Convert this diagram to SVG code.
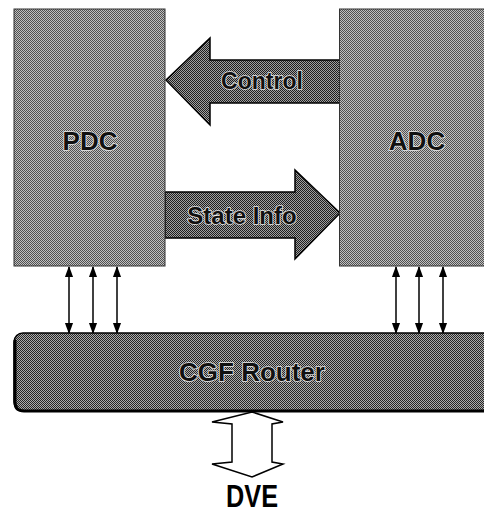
<svg xmlns="http://www.w3.org/2000/svg" width="484" height="513" viewBox="0 0 484 513">
<defs>
<pattern id="boxTex" width="2" height="2" patternUnits="userSpaceOnUse">
<rect width="2" height="2" fill="#c0c0c0"/>
<rect x="0" y="0" width="1" height="1" fill="#505050"/>
<rect x="1" y="1" width="1" height="1" fill="#505050"/>
</pattern>
<pattern id="arrowTex" width="2" height="2" patternUnits="userSpaceOnUse">
<rect width="2" height="2" fill="#a0a0a0"/>
<rect x="0" y="0" width="1" height="1" fill="#1e1e1e"/>
<rect x="1" y="1" width="1" height="1" fill="#1e1e1e"/>
</pattern>
<pattern id="routerTex" width="2" height="2" patternUnits="userSpaceOnUse">
<rect width="2" height="2" fill="#acacac"/>
<rect x="0" y="0" width="1" height="1" fill="#262626"/>
<rect x="1" y="1" width="1" height="1" fill="#262626"/>
</pattern>
<marker id="ah" viewBox="0 0 10 10" refX="9" refY="5" markerWidth="11" markerHeight="11" markerUnits="userSpaceOnUse" orient="auto-start-reverse">
<path d="M0,1.3 L10,5 L0,8.7 Z" fill="#000"/>
</marker>
<style>
.box{fill:url(#boxTex);stroke:#333;stroke-width:1}
.fat{fill:url(#arrowTex);stroke:#000;stroke-width:1.5;stroke-linejoin:miter}
.lbl{font-family:"Liberation Sans",Arial,sans-serif;font-weight:bold;fill:#111;text-anchor:middle;stroke:#e8e8e8;stroke-width:1.6;paint-order:stroke}
.link{stroke:#000;stroke-width:1.5;fill:none;marker-start:url(#ah);marker-end:url(#ah)}
.dve{fill:#fff;stroke:#000;stroke-width:1.5;stroke-linejoin:miter}
</style>
</defs>
<rect width="484" height="513" fill="#fff"/>

<g id="connectors">
<line class="link" x1="69" y1="267" x2="69" y2="333"/>
<line class="link" x1="93" y1="267" x2="93" y2="333"/>
<line class="link" x1="117" y1="267" x2="117" y2="333"/>
<line class="link" x1="396" y1="267" x2="396" y2="333"/>
<line class="link" x1="419" y1="267" x2="419" y2="333"/>
<line class="link" x1="443" y1="267" x2="443" y2="333"/>
<g id="control-arrow">
<path class="fat" d="M166,80 L210,38 L210,60 L340,60 L340,103 L210,103 L210,125 Z"/>
<text class="lbl" x="262" y="89" font-size="23">Control</text>
</g>
<g id="stateinfo-arrow">
<path class="fat" d="M165,192 L295,192 L295,170 L340,213 L295,259 L295,238 L165,238 Z"/>
<text class="lbl" x="242" y="224" font-size="24">State Info</text>
</g>
<path id="dve-arrow" class="dve" d="M252,412 L283,422 L272,424 L272,462 L283,464 L252,477 L212,464 L232,462 L232,424 L212,422 Z"/>
</g>

<g id="pdc">
<rect class="box" x="14" y="9" width="151" height="257"/>
<text class="lbl" x="90" y="150" font-size="26">PDC</text>
</g>

<g id="adc">
<rect class="box" x="339.5" y="9" width="150" height="257"/>
<text class="lbl" x="417" y="150" font-size="26">ADC</text>
</g>

<g id="cgf-router">
<rect x="14" y="333" width="480" height="78" rx="9" fill="url(#routerTex)" stroke="#000" stroke-width="1.5"/>
<path d="M15,340 L15,402 Q15,411 24,411 L484,411" fill="none" stroke="#000" stroke-width="3"/>
<text class="lbl" x="252" y="381" font-size="26">CGF Router</text>
</g>

<g id="dve">
<text x="252" y="507" font-family="'Liberation Sans',Arial,sans-serif" font-weight="bold" font-size="31" text-anchor="middle" textLength="52" lengthAdjust="spacingAndGlyphs" fill="#000">DVE</text>
</g>
</svg>
